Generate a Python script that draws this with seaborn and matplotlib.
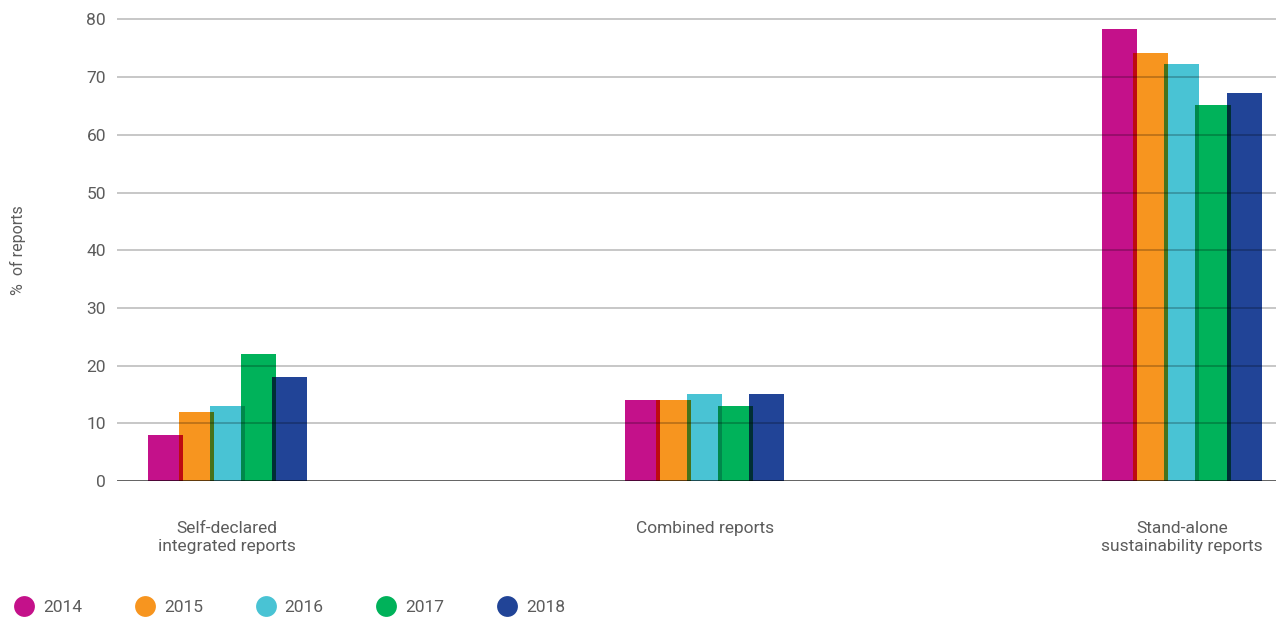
import numpy as np
import pandas as pd
import matplotlib
matplotlib.use("Agg")
import matplotlib.pyplot as plt
from matplotlib.lines import Line2D
from matplotlib.patches import Rectangle
from matplotlib.colors import to_rgb
import seaborn as sns

categories = ["Self-declared\nintegrated reports", "Combined reports",
              "Stand-alone\nsustainability reports"]
years = ["2014", "2015", "2016", "2017", "2018"]
values_2014 = [8, 14, 78.3]
values_2015 = [12, 14, 74.2]
values_2016 = [13, 15, 72.3]
values_2017 = [22, 13, 65.2]
values_2018 = [18, 15, 67.2]
colors = ["#C4118A", "#F7951F", "#49C3D4", "#00B25A", "#214497"]

series = [values_2014, values_2015, values_2016, values_2017, values_2018]
df = pd.DataFrame([
    {"category": c, "year": y, "value": v}
    for y, vals in zip(years, series)
    for c, v in zip(categories, vals)
])

sns.set_theme(style="white")
plt.rcParams["font.family"] = ["Roboto", "DejaVu Sans"]
text_color = "#5c5c5c"

W, H = 1276, 619
fig = plt.figure(figsize=(W / 100, H / 100), dpi=100)
ax = fig.add_axes([117 / W, 138 / H, 1 - 117 / W, 81 * 5.77 / H])

sns.barplot(data=df, x="category", y="value", hue="year", order=categories,
            hue_order=years, palette=colors, saturation=1, width=0.325,
            dodge=True, legend=False, ax=ax)

# widen each bar slightly so neighbouring bars overlap
slot = 0.325 / len(years)
new_w = slot * 35 / 31
bars = sorted([p for p in ax.patches if p.get_height() > 0], key=lambda p: p.get_x())
for p in bars:
    cx = p.get_x() + p.get_width() / 2
    p.set_width(new_w)
    p.set_x(cx - new_w / 2)
    p.set_edgecolor("none")
    p.set_linewidth(0)

# overlapping strips shown as a multiply blend of both bar colours
for a, b in zip(bars[:-1], bars[1:]):
    left = b.get_x()
    right = a.get_x() + a.get_width()
    if right > left:
        ca = np.array(to_rgb(a.get_facecolor()))
        cb = np.array(to_rgb(b.get_facecolor()))
        ax.add_patch(Rectangle((left, 0), right - left,
                               min(a.get_height(), b.get_height()),
                               facecolor=tuple(ca * cb), edgecolor="none",
                               zorder=1.5))

ax.set_xlim(-0.231, 2.197)
ax.set_ylim(0, 81)
ax.set_yticks(range(0, 81, 10))
ax.set_axisbelow(False)
ax.grid(axis="y", color="black", alpha=0.22, linewidth=1.4, zorder=3)
ax.grid(axis="x", visible=False)
ax.axhline(0, color="black", alpha=0.55, linewidth=2, zorder=4)
for s in ax.spines.values():
    s.set_visible(False)

ax.tick_params(axis="y", length=0, pad=8, labelsize=12.5, labelcolor=text_color)
ax.tick_params(axis="x", length=0, pad=29, labelsize=12.5, labelcolor=text_color)
for lab in ax.get_xticklabels():
    lab.set_linespacing(1.25)
ax.set_xlabel("")
ax.set_ylabel("")
fig.text(18 / W, 1 - 250 / H, "%  of reports", rotation=90, ha="center",
         va="center", fontsize=11.5, color=text_color)

handles = [Line2D([], [], linestyle="none", marker="o", markersize=15,
                  markerfacecolor=c, markeredgecolor="none") for c in colors]
fig.legend(handles, years, loc="center left",
           bbox_to_anchor=(14 / W, 1 - 607 / H), ncol=5, frameon=False,
           borderpad=0, borderaxespad=0, handlelength=1.2, handletextpad=0.5,
           columnspacing=3.0, prop={"size": 12.5},
           labelcolor=text_color)

fig.savefig("out.png", dpi=100)
